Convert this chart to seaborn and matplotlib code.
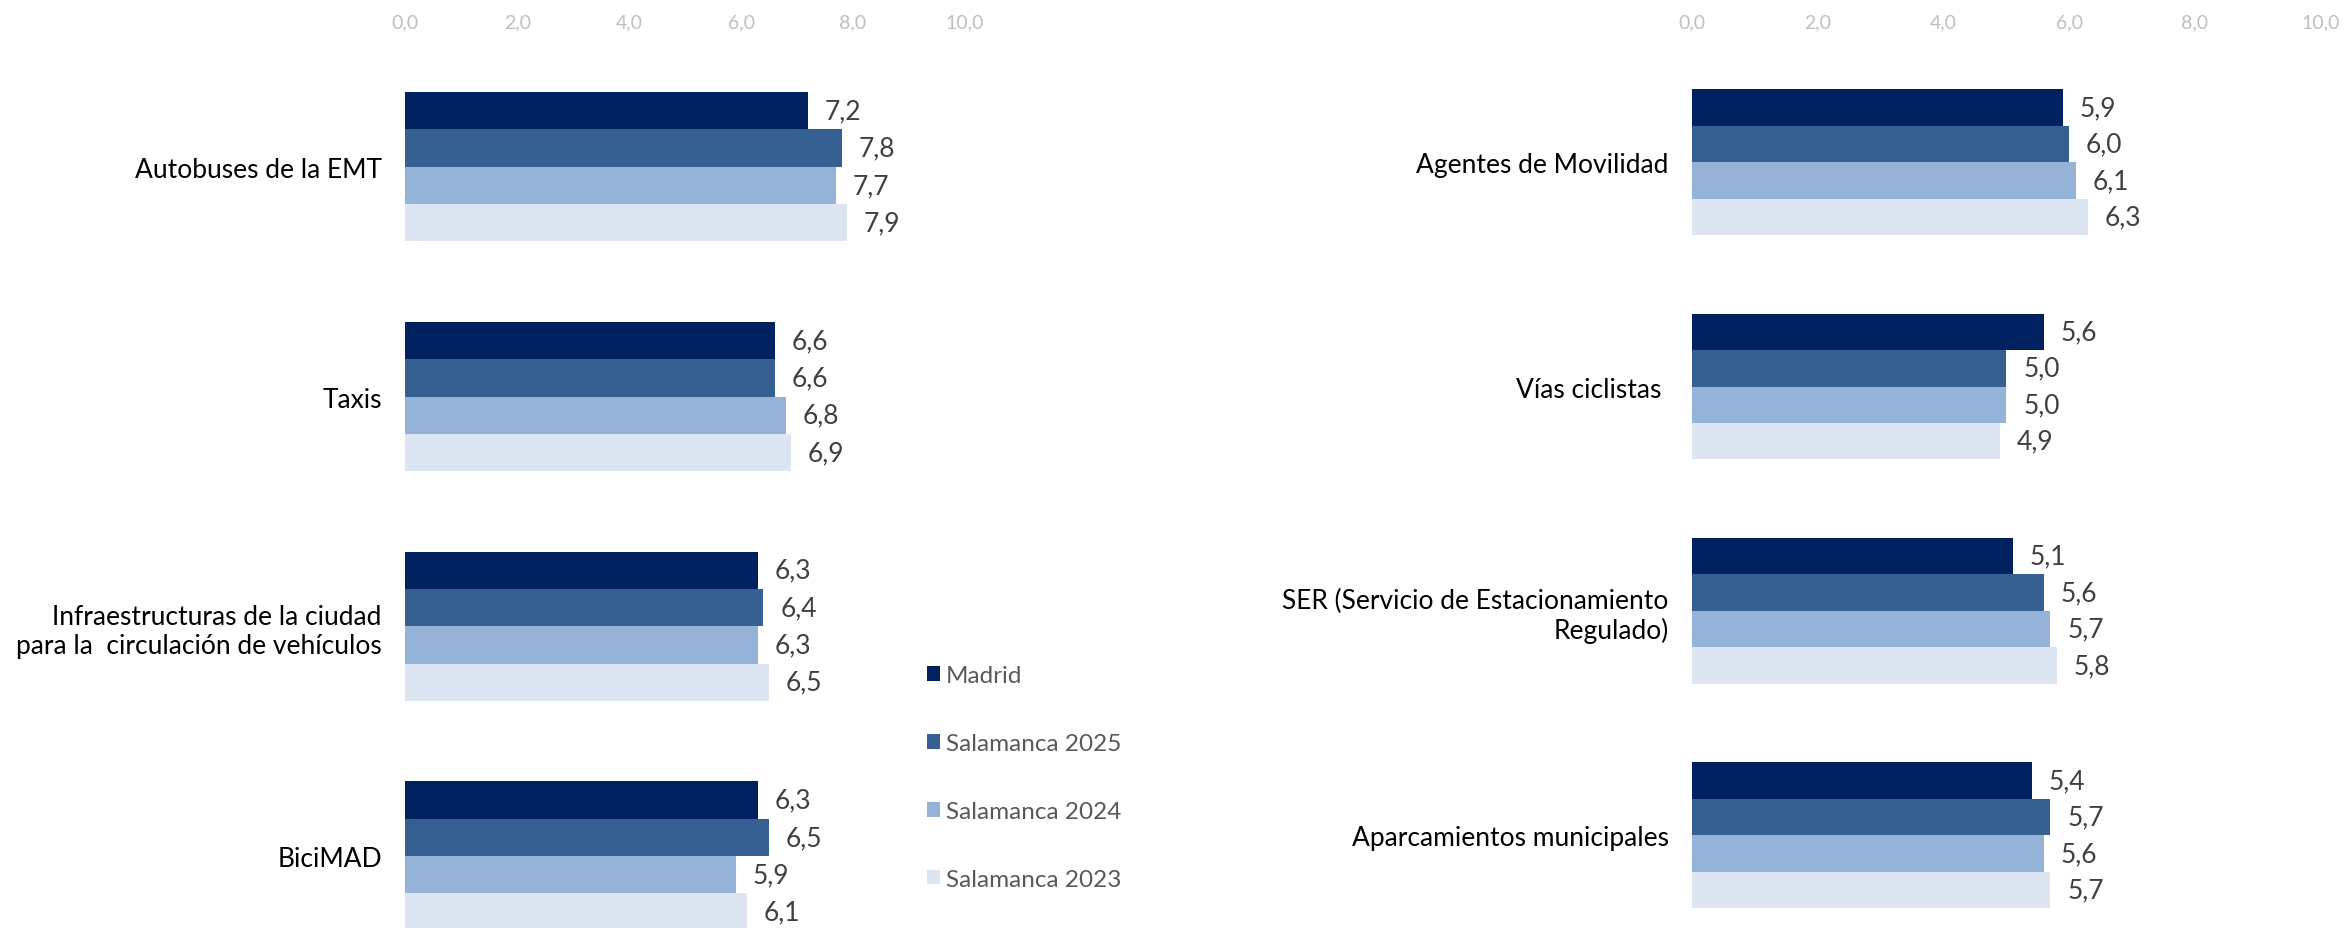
import matplotlib
matplotlib.use("Agg")
import matplotlib.pyplot as plt
import seaborn as sns
import pandas as pd
from matplotlib.ticker import FuncFormatter

series = ["Madrid", "Salamanca 2025", "Salamanca 2024", "Salamanca 2023"]
colors = ["#002060", "#376092", "#95B3D7", "#DCE6F2"]

# panel izquierdo
left_cats = ["Autobuses de la EMT", "Taxis",
             "Infraestructuras de la ciudad\npara la  circulación de vehículos", "BiciMAD"]
left_madrid = [7.2, 6.6, 6.3, 6.3]
left_sal25 = [7.8, 6.6, 6.4, 6.5]
left_sal24 = [7.7, 6.8, 6.3, 5.9]
left_sal23 = [7.9, 6.9, 6.5, 6.1]

# panel derecho
right_cats = ["Agentes de Movilidad", "Vías ciclistas ",
              "SER (Servicio de Estacionamiento\nRegulado)", "Aparcamientos municipales"]
right_madrid = [5.9, 5.6, 5.1, 5.4]
right_sal25 = [6.0, 5.0, 5.6, 5.7]
right_sal24 = [6.1, 5.0, 5.7, 5.6]
right_sal23 = [6.3, 4.9, 5.8, 5.7]


def to_long(cats, cols):
    rows = []
    for name, vals in zip(series, cols):
        for c, v in zip(cats, vals):
            rows.append({"servicio": c, "serie": name, "valor": v})
    return pd.DataFrame(rows)


sns.set_theme(style="white")
plt.rcParams['font.family'] = ['Lato', 'DejaVu Sans']

fig = plt.figure(figsize=(23.46, 9.29), dpi=100)
ax_l = fig.add_axes([0.1728, 0.0, 0.2385, 0.953])
ax_r = fig.add_axes([0.7213, 0.0, 0.2679, 0.953])

panels = [
    (ax_l, to_long(left_cats, [left_madrid, left_sal25, left_sal24, left_sal23]), left_cats, (3.313, -0.54)),
    (ax_r, to_long(right_cats, [right_madrid, right_sal25, right_sal24, right_sal23]), right_cats, (3.414, -0.533)),
]

comma = FuncFormatter(lambda v, p: f"{v:.1f}".replace(".", ","))

for ax, df, cats, ylim in panels:
    sns.barplot(data=df, x="valor", y="servicio", hue="serie", order=cats,
                hue_order=series, palette=colors, orient="h", width=0.65,
                gap=0, saturation=1, errorbar=None, linewidth=0, ax=ax)
    for cont in ax.containers:
        ax.bar_label(cont, labels=[f"{v:.1f}".replace(".", ",") for v in cont.datavalues],
                     padding=12, fontsize=19, color="#404040")
    ax.set_xlim(0, 10)
    ax.set_ylim(*ylim)
    ax.set_xticks(range(0, 11, 2))
    ax.xaxis.set_major_formatter(comma)
    ax.xaxis.tick_top()
    ax.tick_params(axis="x", length=0, labelsize=14, labelcolor="#BFBFBF", pad=9)
    ax.tick_params(axis="y", length=0, labelsize=19, labelcolor="black", pad=17)
    ax.set_xlabel("")
    ax.set_ylabel("")
    for s in ax.spines.values():
        s.set_visible(False)

handles, labels = ax_l.get_legend_handles_labels()
ax_l.get_legend().remove()
ax_r.get_legend().remove()
fig.legend(handles, labels, loc="upper left", bbox_to_anchor=(915 / 2346, 1 - 654 / 929),
           frameon=False, fontsize=17.5, labelcolor="#595959", borderpad=0,
           handlelength=0.53, handleheight=0.53, handletextpad=0.25, labelspacing=1.93)

fig.savefig("out.png", dpi=100)
